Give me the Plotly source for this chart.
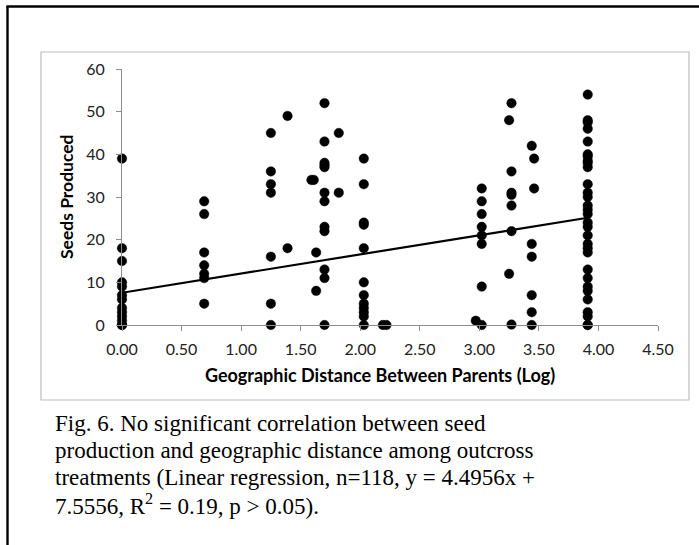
import plotly.graph_objects as go

# Log geographic distance between parents for each outcross, and seeds produced
distance_log = (
    [0.00] * 13
    + [0.69] * 7
    + [1.25] * 7
    + [1.39] * 2
    + [1.59, 1.61]
    + [1.63] * 2
    + [1.70] * 12
    + [1.82] * 2
    + [2.03] * 12
    + [2.19, 2.22]
    + [2.97]
    + [3.02] * 8
    + [3.25] * 2
    + [3.27] * 7
    + [3.44] * 6
    + [3.46] * 2
    + [3.91] * 31
)
seeds = (
    [39, 18, 15, 10, 9, 7, 6, 4, 3, 2, 1, 0, 0]
    + [29, 26, 17, 14, 12, 11, 5]
    + [45, 36, 33, 31, 16, 5, 0]
    + [49, 18]
    + [34, 34]
    + [17, 8]
    + [52, 43, 38, 37.5, 37, 31, 29, 23, 22, 13, 11, 0]
    + [45, 31]
    + [39, 33, 24, 23.5, 18, 10, 7, 5, 4, 3, 2, 0]
    + [0, 0]
    + [1]
    + [32, 29, 26, 23, 21, 19, 9, 0]
    + [48, 12]
    + [52, 36, 31, 30.5, 28, 22, 0.1]
    + [42, 19, 16, 7, 3, 0]
    + [39, 32]
    + [54, 48, 47.5, 46, 43, 40, 39.5, 38.5, 38, 37, 33, 31, 30, 28, 27, 26,
       24, 23, 21, 19, 18, 17, 13, 11, 9, 8, 6, 3, 2, 0, 0]
)

# Linear regression reported in the caption
slope = 4.4956
intercept = 7.5556

x_ticks = [0.0, 0.5, 1.0, 1.5, 2.0, 2.5, 3.0, 3.5, 4.0, 4.5]
y_ticks = [0, 10, 20, 30, 40, 50, 60]

caption_lines = [
    "Fig. 6. No significant correlation between seed",
    "production and geographic distance among outcross",
    "treatments (Linear regression, n=118, y = 4.4956x +",
    "7.5556, R<sup>2</sup> = 0.19, p > 0.05).",
]

W, H = 699, 545
L, R, T, B = 122, 41, 69, 220
PW, PH = W - L - R, H - T - B


def px(x):
    return (x - L) / PW


def py(y):
    return (H - B - y) / PH


fit_x = [min(distance_log), max(distance_log)]
fit_y = [slope * v + intercept for v in fit_x]

fig = go.Figure()
fig.add_trace(go.Scatter(
    x=distance_log, y=seeds, mode="markers",
    marker=dict(color="black", size=9.5,
                line=dict(color="rgba(0,0,0,0.45)", width=1)),
    cliponaxis=False, showlegend=False,
))
fig.add_trace(go.Scatter(
    x=fit_x, y=fit_y, mode="lines",
    line=dict(color="black", width=2.2), showlegend=False,
))

axis_common = dict(
    showgrid=False, zeroline=False, showline=True,
    linecolor="#8c8c8c", linewidth=1,
    ticks="outside", ticklen=5, tickcolor="#8c8c8c", tickwidth=1,
    tickfont=dict(family="Lato", size=16, color="#222222"),
)

fig.update_xaxes(range=[0, 4.5], tickvals=x_ticks,
                 ticktext=[f"{v:.2f}" for v in x_ticks],
                 ticklabelstandoff=5, **axis_common)
fig.update_yaxes(range=[0, 60], tickvals=y_ticks,
                 ticktext=[str(v) for v in y_ticks],
                 ticklabelstandoff=8, **axis_common)

shapes = [
    # chart area border
    dict(type="rect", xref="paper", yref="paper",
         x0=px(41), x1=px(689), y0=py(400), y1=py(52),
         line=dict(color="#bdbdbd", width=1.2), fillcolor="rgba(0,0,0,0)",
         layer="below"),
    # page frame
    dict(type="line", xref="paper", yref="paper",
         x0=px(6.5), x1=px(705), y0=py(6.5), y1=py(6.5),
         line=dict(color="black", width=2.4)),
    dict(type="line", xref="paper", yref="paper",
         x0=px(7.5), x1=px(7.5), y0=py(6), y1=py(550),
         line=dict(color="black", width=2.4)),
]

annotations = [
    dict(text="<b>Geographic Distance Between Parents (Log)</b>",
         xref="paper", yref="paper", x=px(380), y=py(375),
         xanchor="center", yanchor="middle", showarrow=False,
         font=dict(family="Lato", size=18, color="black")),
    dict(text="<b>Seeds Produced</b>", textangle=-90,
         xref="paper", yref="paper", x=px(66), y=py(197),
         xanchor="center", yanchor="middle", showarrow=False,
         font=dict(family="Lato", size=17.5, color="black")),
]

for i, line in enumerate(caption_lines):
    annotations.append(dict(
        text=line, xref="paper", yref="paper",
        x=px(53), y=py(423 + 27 * i), xanchor="left", yanchor="middle",
        showarrow=False, align="left",
        font=dict(family="Liberation Serif", size=23, color="black"),
    ))

fig.update_layout(
    width=W, height=H,
    margin=dict(l=L, r=R, t=T, b=B),
    paper_bgcolor="white", plot_bgcolor="white",
    shapes=shapes, annotations=annotations,
)

fig.write_html("out.html")
